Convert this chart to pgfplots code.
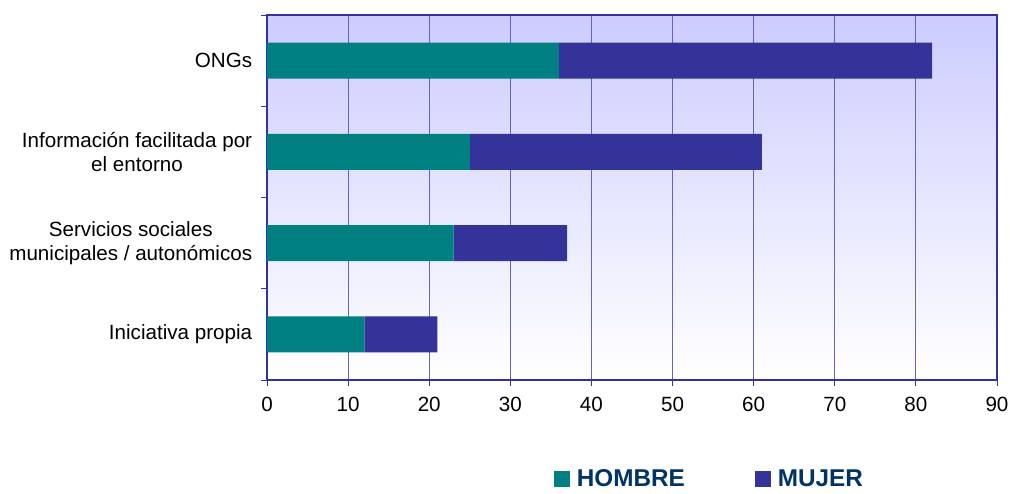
\documentclass[border=0pt]{standalone}
\usepackage{fontspec}
\setmainfont{Liberation Sans}
\usepackage{pgfplots}
\pgfplotsset{compat=1.18}
\definecolor{hombre}{RGB}{0,128,128}
\definecolor{mujer}{RGB}{51,51,153}
\definecolor{frame}{RGB}{51,51,153}
\definecolor{gridc}{RGB}{100,100,185}
\definecolor{legtext}{RGB}{0,51,102}
\definecolor{lav}{RGB}{204,204,255}
\begin{document}
\fontsize{20}{23}\selectfont
\begin{tikzpicture}[x=1pt,y=1pt]
\begin{axis}[
  name=ax, at={(0,0)}, anchor=south west,
  scale only axis, width=730pt, height=365pt,
  xmin=0, xmax=90, ymin=-0.5, ymax=3.5,
  xbar stacked, bar width=36pt,
  xtick={0,10,...,90},
  ytick={-0.5,0.5,1.5,2.5,3.5}, yticklabels={},
  extra y ticks={0,1,2,3},
  extra y tick labels={Iniciativa propia,{Servicios sociales\\municipales / autonómicos},{Información facilitada por\\el entorno},ONGs},
  extra y tick style={major tick length=0pt, grid=none, yticklabel style={align=center, xshift=-8pt, font=\fontsize{20.6}{23.5}\selectfont}},
  tick pos=left, tick align=outside, major tick length=6pt,
  tick style={color=frame, line width=0.8pt},
  xmajorgrids, grid style={color=gridc, line width=1pt},
  axis line style={color=frame, line width=2pt},
  axis background/.style={top color=lav, bottom color=white},
  tick label style={font=\fontsize{20.6}{23.5}\selectfont},
  /pgf/number format/assume math mode=true,
  xticklabel style={yshift=-4pt, inner xsep=0pt},
  legend style={at={(0.606,-0.272)}, anchor=center, draw=none, fill=none,
    font=\fontsize{24.3}{26}\selectfont\bfseries, text=legtext,
    /tikz/every odd column/.append style={column sep=5pt},
    /tikz/every even column/.append style={column sep=68pt}},
  legend columns=2,
  legend image code/.code={\fill[#1,draw=none] (0pt,-8pt) rectangle (16pt,8pt);},
]
\addplot[fill=hombre, draw=none] coordinates {(12,0) (23,1) (25,2) (36,3)};
\addplot[fill=mujer, draw=none] coordinates {(9,0) (14,1) (36,2) (46,3)};
\legend{HOMBRE,MUJER}
\end{axis}
\path (ax.south west) ++(-267,-107) rectangle ++(1010,487);
\end{tikzpicture}
\end{document}
